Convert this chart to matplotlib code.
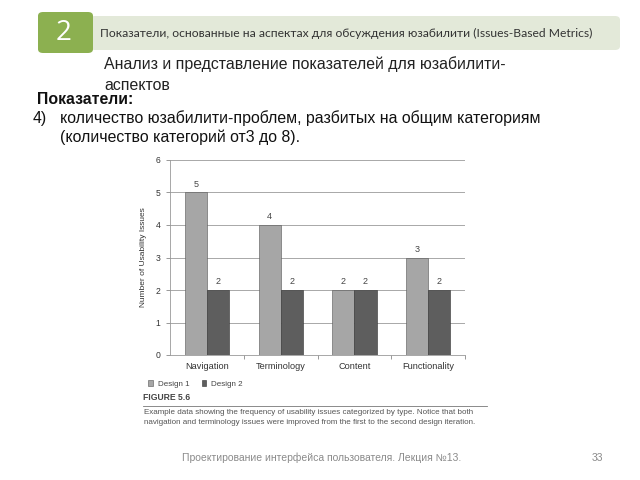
import matplotlib
matplotlib.use("Agg")
import matplotlib.pyplot as plt
from matplotlib.patches import FancyBboxPatch, Rectangle
from matplotlib.lines import Line2D
import numpy as np

categories = ["Navigation", "Terminology", "Content", "Functionality"]
design1 = [5, 4, 2, 3]
design2 = [2, 2, 2, 2]
series_names = ["Design 1", "Design 2"]
yticks = [0, 1, 2, 3, 4, 5, 6]

plt.rcParams['font.family'] = ['Liberation Sans', 'DejaVu Sans']

W, H = 640, 480
fig = plt.figure(figsize=(6.4, 4.8), dpi=100)

def fx(px):
    return px / W

def fy(py):
    return 1 - py / H

# Header band
fig.patches.append(FancyBboxPatch((fx(90), fy(50)), fx(620) - fx(90), fy(16) - fy(50),
                                  boxstyle="round,pad=0,rounding_size=0.008",
                                  transform=fig.transFigure, fc="#e3e9d9", ec="none"))
fig.patches.append(FancyBboxPatch((fx(38), fy(53)), fx(93) - fx(38), fy(12) - fy(53),
                                  boxstyle="round,pad=0,rounding_size=0.008",
                                  transform=fig.transFigure, fc="#8cb050", ec="none"))
fig.text(fx(64), fy(33), "2", color="white", fontsize=20, ha="center", va="center",
         family=['Open Sans', 'DejaVu Sans'])
fig.text(fx(100), fy(33), "Показатели, основанные на аспектах для обсуждения юзабилити (Issues-Based Metrics)",
         fontsize=8.7, color="#333333", ha="left", va="center", family=['Lato', 'DejaVu Sans'])

body = 11.4
fig.text(fx(104), fy(64), "Анализ и представление показателей для юзабилити-",
         fontsize=body, color="#222222", ha="left", va="center")
fig.text(fx(104), fy(86), "аспектов", fontsize=body, color="#222222", ha="left", va="center")
fig.text(fx(37), fy(99), "Показатели:", fontsize=body, color="#111111", ha="left", va="center",
         fontweight="bold")
fig.text(fx(33), fy(118), "4)", fontsize=body, color="#111111", ha="left", va="center")
fig.text(fx(60), fy(118), "количество юзабилити-проблем, разбитых на общим категориям",
         fontsize=body, color="#111111", ha="left", va="center")
fig.text(fx(60), fy(137), "(количество категорий от3 до 8).",
         fontsize=body, color="#111111", ha="left", va="center")

# Chart
ax = fig.add_axes([fx(170), fy(355), fx(465) - fx(170), fy(160) - fy(355)])
x = np.arange(len(categories))
bw = 0.3
b1 = ax.bar(x - bw / 2, design1, bw, color="#a6a6a6", edgecolor="#555555", linewidth=0.4,
            label=series_names[0], zorder=3)
b2 = ax.bar(x + bw / 2, design2, bw, color="#5e5e5e", edgecolor="#333333", linewidth=0.4,
            label=series_names[1], zorder=3)
for rects, vals in ((b1, design1), (b2, design2)):
    for r, v in zip(rects, vals):
        ax.text(r.get_x() + r.get_width() / 2, v + 0.12, str(v), ha="center", va="bottom",
                fontsize=6.5, color="#444444")

ax.set_xlim(-0.5, len(categories) - 0.5)
ax.set_ylim(0, 6)
ax.set_yticks(yticks)
ax.set_yticklabels([str(t) for t in yticks])
ax.set_xticks(x)
ax.set_xticklabels(categories)
ax.set_xticks(np.arange(len(categories)) + 0.5, minor=True)
ax.tick_params(axis="x", which="major", length=0, labelsize=6.6, colors="#333333", pad=5)
ax.tick_params(axis="x", which="minor", length=3, color="#888888", width=0.6)
ax.tick_params(axis="y", length=3, color="#888888", width=0.6, labelsize=6.2,
               labelcolor="#333333", pad=4)
ax.yaxis.grid(True, color="#9a9a9a", linewidth=0.6, zorder=0)
ax.set_axisbelow(True)
for s in ("top", "right"):
    ax.spines[s].set_visible(False)
for s in ("left", "bottom"):
    ax.spines[s].set_color("#999999")
    ax.spines[s].set_linewidth(0.6)
ax.set_ylabel("Number of Usability Issues", fontsize=6, color="#333333", labelpad=6)

fig.legend(handles=[b1, b2], labels=series_names, loc="center left",
           bbox_to_anchor=(fx(141), fy(384)), ncol=2, frameon=False, fontsize=5.8,
           handlelength=0.6, handleheight=0.7, handletextpad=0.6, columnspacing=1.5,
           labelcolor="#444444")

fig.text(fx(143), fy(398), "FIGURE 5.6", fontsize=6.2, fontweight="bold", color="#444444",
         ha="left", va="center", family=['Liberation Sans Narrow', 'Liberation Sans'])
fig.add_artist(Line2D([fx(143), fx(487)], [fy(406), fy(406)], transform=fig.transFigure,
                      color="#777777", linewidth=0.6))
fig.text(fx(144), fy(413), "Example data showing the frequency of usability issues categorized by type. Notice that both",
         fontsize=5.8, color="#555555", ha="left", va="center")
fig.text(fx(144), fy(423), "navigation and terminology issues were improved from the first to the second design iteration.",
         fontsize=5.8, color="#555555", ha="left", va="center")

# Footer
fig.text(fx(322), fy(458), "Проектирование интерфейса пользователя. Лекция №13.",
         fontsize=7.5, color="#8a8a8a", ha="center", va="center")
fig.text(fx(597), fy(458), "33", fontsize=7.5, color="#8a8a8a", ha="center", va="center")

fig.savefig("out.png", dpi=100)
